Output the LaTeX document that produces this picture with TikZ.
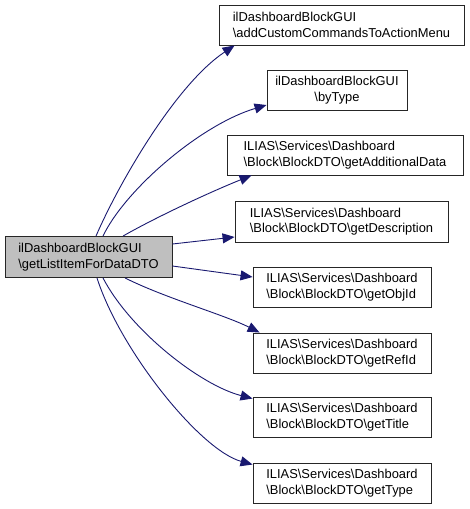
\documentclass[tikz,border=0pt]{standalone}
\usepackage{fontspec}
\setmainfont{Liberation Sans}
\usetikzlibrary{arrows.meta}
\definecolor{edgeblue}{RGB}{25,25,112}
\definecolor{rootgray}{RGB}{191,191,191}
\begin{document}
\begin{tikzpicture}[x=1pt,y=-1pt,
  fn/.style = {draw=black!85, line width=.9pt, fill=white, align=left, inner sep=0pt,
               minimum height=40pt, font=\fontsize{12.9}{15.5}\selectfont},
  call/.style = {draw=edgeblue, line width=.9pt, -{Triangle[length=12pt,width=10pt]}}]
\useasboundingbox (0,0) rectangle (469,509);

\node [fn, fill=rootgray, minimum width=167pt, minimum height=41pt] (root) at (88.5,257) {ilDashboardBlockGUI\\\textbackslash getListItemForDataDTO};

\node [fn, minimum width=245pt] (addcmd) at (341.5,25) {ilDashboardBlockGUI\\\textbackslash addCustomCommandsToActionMenu};
\node [fn, align=center, minimum width=140pt] (bytype) at (337,90) {ilDashboardBlockGUI\\\textbackslash byType};
\node [fn, minimum width=236pt] (adddata) at (345,155) {ILIAS\textbackslash Services\textbackslash Dashboard\\\textbackslash Block\textbackslash BlockDTO\textbackslash getAdditionalData};
\node [fn, minimum width=213pt, minimum height=41pt] (desc) at (341.5,221.5) {ILIAS\textbackslash Services\textbackslash Dashboard\\\textbackslash Block\textbackslash BlockDTO\textbackslash getDescription};
\node [fn, minimum width=178pt] (objid) at (342,287) {ILIAS\textbackslash Services\textbackslash Dashboard\\\textbackslash Block\textbackslash BlockDTO\textbackslash getObjId};
\node [fn, minimum width=178pt] (refid) at (342,353) {ILIAS\textbackslash Services\textbackslash Dashboard\\\textbackslash Block\textbackslash BlockDTO\textbackslash getRefId};
\node [fn, minimum width=178pt] (title) at (342,417) {ILIAS\textbackslash Services\textbackslash Dashboard\\\textbackslash Block\textbackslash BlockDTO\textbackslash getTitle};
\node [fn, minimum width=178pt] (type) at (342,483) {ILIAS\textbackslash Services\textbackslash Dashboard\\\textbackslash Block\textbackslash BlockDTO\textbackslash getType};

% calls going up
\draw [call] ([xshift=7.5pt]root.north) .. controls (118,185) and (175,85) .. ([xshift=16pt]addcmd.south west);
\draw [call] ([xshift=14.5pt]root.north) .. controls (125,190) and (200,125) .. ([yshift=-15pt]bytype.west);
\draw [call] ([xshift=34.5pt]root.north) .. controls (160,215) and (215,190) .. ([xshift=25pt]adddata.south west);
\draw [call] ([yshift=13pt]root.east) -- ([yshift=-15.5pt]desc.west);

% calls going down
\draw [call] ([yshift=-9pt]root.east) -- ([yshift=10pt]objid.west);
\draw [call] ([xshift=36.5pt]root.south) .. controls (165,298) and (225,315) .. ([xshift=7pt]refid.north west);
\draw [call] ([xshift=14.5pt]root.south) .. controls (130,330) and (200,385) .. ([yshift=-2pt]title.north west);
\draw [call] ([xshift=8.5pt]root.south) .. controls (120,350) and (200,450) .. ([yshift=-2pt]type.north west);
\end{tikzpicture}
\end{document}
